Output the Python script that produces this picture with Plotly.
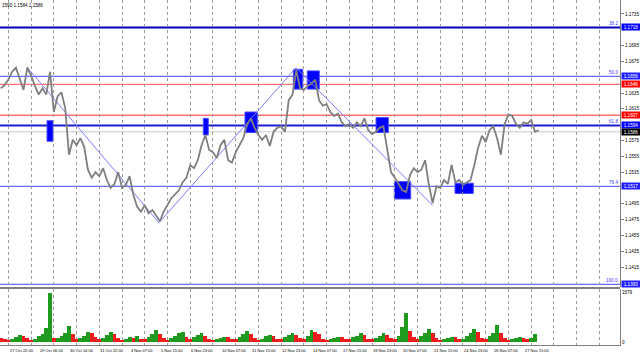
import plotly.graph_objects as go

# ---------------- data ----------------
PRICE_FIRST_BAR = -6      # bar index of first sampled close (H1 bars, 0 = 27 Oct 22:00)
PRICE_STEP = 4            # bars between sampled closes
closes = [
    1.1641, 1.1645, 1.1652, 1.1662, 1.1667, 1.1654, 1.1639, 1.1667, 1.1657, 1.1644,
    1.1633, 1.1641, 1.1633, 1.1662, 1.1611, 1.1631, 1.1636, 1.1616, 1.1557, 1.1576,
    1.1569, 1.1578, 1.1567, 1.1538, 1.1528, 1.1535, 1.1530, 1.1540, 1.1525, 1.1515,
    1.1520, 1.1535, 1.1515, 1.1519, 1.1530, 1.1506, 1.1491, 1.1485, 1.1493, 1.1483,
    1.1487, 1.1480, 1.1473, 1.1485, 1.1493, 1.1502, 1.1507, 1.1512, 1.1522, 1.1528,
    1.1544, 1.1540, 1.1550, 1.1569, 1.1582, 1.1563, 1.1560, 1.1553, 1.1569, 1.1576,
    1.1550, 1.1547, 1.1560, 1.1569, 1.1578, 1.1595, 1.1603, 1.1591, 1.1582, 1.1576,
    1.1582, 1.1568, 1.1586, 1.1591, 1.1593, 1.1586, 1.1626, 1.1633, 1.1664, 1.1641,
    1.1639, 1.1644, 1.1647, 1.1652, 1.1626, 1.1619, 1.1621, 1.1611, 1.1606, 1.1609,
    1.1598, 1.1593, 1.1596, 1.1591, 1.1598, 1.1593, 1.1603, 1.1588, 1.1583, 1.1586,
    1.1591, 1.1593, 1.1563, 1.1535, 1.1528, 1.1519, 1.1512, 1.1510, 1.1531, 1.1540,
    1.1535, 1.1538, 1.1550, 1.1519, 1.1496, 1.1517, 1.1515, 1.1525, 1.1520, 1.1544,
    1.1522, 1.1525, 1.1519, 1.1522, 1.1525, 1.1544, 1.1566, 1.1581, 1.1573, 1.1588,
    1.1593, 1.1578, 1.1557, 1.1596, 1.1608, 1.1606, 1.1596, 1.1591, 1.1598, 1.1596,
    1.1601, 1.1586, 1.1588,
]
volumes = [
    120, 80,
    60, 90, 150, 230, 200, 140,
    70, 100, 180, 260, 430, 1550,
    120, 130, 200, 300, 520, 250,
    80, 120, 200, 330, 280, 150,
    80, 120, 220, 330, 250, 130,
    70, 90, 150, 140, 180, 100,
    80, 160, 250, 370, 260, 120,
    70, 130, 200, 270, 330, 150,
    80, 150, 210, 270, 200, 110,
    70, 100, 130, 170, 150, 90,
    80, 170, 250, 355, 260, 120,
    70, 110, 180, 220, 200, 100,
    80, 150, 220, 270, 230, 120,
    90, 200, 370, 330, 250, 100,
    70, 100, 140, 170, 150, 80,
    80, 150, 200, 270, 220, 100,
    80, 140, 200, 270, 230, 120,
    100, 200, 470, 930, 350, 150,
    100, 200, 300, 420, 300, 130,
    70, 100, 140, 170, 150, 80,
    90, 200, 300, 420, 330, 130,
    90, 200, 300, 550, 300, 130,
    70, 100, 120, 150, 140, 80,
    120, 240,
]

zigzag_bars = [21.6, 161.0, 305.7, 450.0]
zigzag_prices = [1.1668, 1.1471, 1.1667, 1.1493]

rect_x0 = [42.8, 207.8, 251.8, 302.9, 317.6, 390.2, 409.5, 473.6]
rect_x1 = [49.1, 213.1, 264.8, 312.8, 330.3, 403.2, 426.8, 492.9]
rect_top = [1.1600, 1.1603, 1.1611, 1.1665, 1.1663, 1.1604, 1.1523, 1.1521]
rect_bot = [1.1574, 1.1582, 1.1585, 1.1640, 1.1640, 1.1585, 1.1501, 1.1508]

fib_levels = ["38.2", "50.0", "61.8", "76.4", "100.0"]
fib_prices = [1.1718, 1.1656, 1.1594, 1.1517, 1.1393]
fib_colors = ["#0000b8", "#6a6aff", "#1c1cd0", "#6a6aff", "#6a6aff"]
fib_widths = [2, 1.3, 2, 1.3, 1.3]

red_prices = [1.1646, 1.1607]
current_price = 1.1586

# axis ticks that are not hidden behind the coloured price boxes
price_ticks = [1.1415, 1.1435, 1.1455, 1.1475, 1.1495, 1.1535, 1.1555, 1.1575,
               1.1615, 1.1635, 1.1675, 1.1695, 1.1735]

time_label_bars = [0, 32, 64, 96, 128, 160, 192, 224, 256, 288, 320, 352, 384, 416, 448, 480, 512, 544]
time_labels = ["27 Oct 22:00", "29 Oct 06:00", "30 Oct 14:00", "31 Oct 22:00", "4 Nov 07:00",
               "5 Nov 15:00", "6 Nov 23:00", "10 Nov 07:00", "11 Nov 15:00", "12 Nov 23:00",
               "14 Nov 07:00", "17 Nov 15:00", "18 Nov 23:00", "20 Nov 07:00", "21 Nov 15:00",
               "24 Nov 23:00", "26 Nov 07:00", "27 Nov 15:00"]

box_prices = [1.1718, 1.1656, 1.1646, 1.1607, 1.1594, 1.1586, 1.1517, 1.1393]
box_colors = ["#0000ff", "#2020ff", "#ff0000", "#ff0000", "#0000ff", "#000000", "#2020ff", "#2020ff"]

vol_max_label = 1579
header_text = "1590 1.1584 1.1586"

# ---------------- figure ----------------
FONT = "Liberation Sans"
price_bars = [PRICE_FIRST_BAR + PRICE_STEP * i for i in range(len(closes))]
vol_bars = [PRICE_FIRST_BAR + PRICE_STEP * i for i in range(len(volumes))]
vol_colors = ["#1f9a1f" if (i > 0 and volumes[i] > volumes[i - 1]) else "#ee1c1c"
              for i in range(len(volumes))]

fig = go.Figure()

shapes = []
for p, c, w in zip(fib_prices, fib_colors, fib_widths):
    shapes.append(dict(type="line", xref="paper", x0=0, x1=1, yref="y", y0=p, y1=p,
                       line=dict(color=c, width=w), layer="below"))
for p in red_prices:
    shapes.append(dict(type="line", xref="paper", x0=0, x1=1, yref="y", y0=p, y1=p,
                       line=dict(color="#ff6f6f", width=1.4), layer="below"))
shapes.append(dict(type="line", xref="paper", x0=0, x1=1, yref="y", y0=current_price,
                   y1=current_price, line=dict(color="#c8c8c8", width=1), layer="below"))
for x0, x1, t, b in zip(rect_x0, rect_x1, rect_top, rect_bot):
    shapes.append(dict(type="rect", x0=x0, x1=x1, y0=b, y1=t, xref="x", yref="y",
                       fillcolor="#0000ff", line=dict(color="#4a4aff", width=1), layer="below"))
# pane separator
shapes.append(dict(type="line", xref="paper", yref="paper", x0=0, x1=1,
                   y0=(345 - 288) / 345, y1=(345 - 288) / 345,
                   line=dict(color="#808080", width=2), layer="above"))

fig.add_trace(go.Scatter(x=zigzag_bars, y=zigzag_prices, mode="lines",
                         line=dict(color="#7c7cff", width=1), yaxis="y", hoverinfo="skip"))
fig.add_trace(go.Scatter(x=price_bars, y=closes, mode="lines",
                         line=dict(color="#7f7f7f", width=1.8), yaxis="y"))
fig.add_trace(go.Bar(x=vol_bars, y=volumes, marker=dict(color=vol_colors, line=dict(width=0)),
                     width=PRICE_STEP, yaxis="y2"))

annotations = []
for p, lab in zip(fib_prices, fib_levels):
    annotations.append(dict(x=1, xref="paper", y=p, yref="y", text=lab, showarrow=False,
                            xanchor="right", yanchor="bottom", yshift=-1,
                            font=dict(family=FONT, size=4.6, color="#3a3aff")))
for p, c in zip(box_prices, box_colors):
    annotations.append(dict(x=1, xref="paper", y=p, yref="y", text=f"{p:.4f}", showarrow=False,
                            xanchor="left", yanchor="middle", xshift=1, bgcolor=c,
                            width=18, height=6, borderpad=0,
                            font=dict(family=FONT, size=4.6, color="white")))
for b, lab in zip(time_label_bars, time_labels):
    annotations.append(dict(x=b, xref="x", y=0, yref="paper", text=lab, showarrow=False,
                            xanchor="left", yanchor="top", xshift=1, yshift=-1,
                            font=dict(family=FONT, size=4, color="#000000")))
annotations.append(dict(x=0, xref="paper", y=1, yref="paper", text=header_text,
                        showarrow=False, xanchor="left", yanchor="top", yshift=-1,
                        font=dict(family=FONT, size=4.6, color="#000000")))

fig.update_layout(
    width=640, height=356,
    margin=dict(l=0, r=20, t=0, b=11),
    paper_bgcolor="white", plot_bgcolor="white",
    showlegend=False, bargap=0,
    annotations=annotations, shapes=shapes,
    xaxis=dict(range=[-6.86, 647.8], showgrid=True, tick0=2, dtick=24,
               gridcolor="#9a9a9a", griddash="dot", gridwidth=1,
               showticklabels=False, ticks="", zeroline=False,
               showline=True, linecolor="#808080", linewidth=1, anchor="y2"),
    yaxis=dict(domain=[0.16812, 1], range=[1.13897, 1.17527], side="right",
               tickvals=price_ticks, ticktext=[f"{t:.4f}" for t in price_ticks],
               ticks="outside", ticklen=3, tickcolor="#808080",
               tickfont=dict(family=FONT, size=4.6, color="#000000"),
               showgrid=False, zeroline=False,
               showline=True, linecolor="#808080", linewidth=1),
    yaxis2=dict(domain=[0, 0.16232], range=[-94.7, 1673.7], side="right",
                tickvals=[0, vol_max_label], ticktext=["0", str(vol_max_label)],
                ticks="", tickfont=dict(family=FONT, size=4.6, color="#000000"),
                showgrid=False, zeroline=False,
                showline=True, linecolor="#808080", linewidth=1),
)

fig.write_html("out.html")
